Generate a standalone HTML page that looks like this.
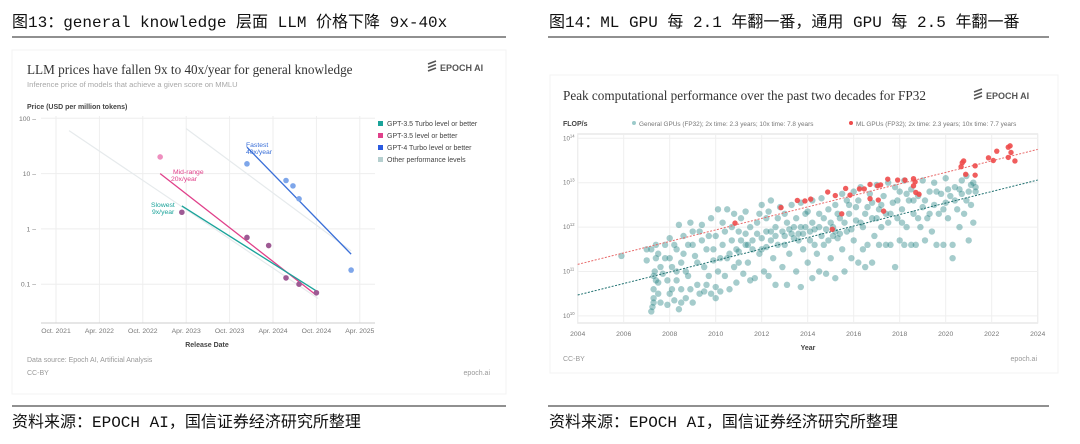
<!DOCTYPE html>
<html><head><meta charset="utf-8"><style>
html,body{margin:0;padding:0;background:#fff;}
svg{display:block;font-family:"Liberation Sans","Noto Sans CJK SC",sans-serif;}
.hdr{font-family:"Liberation Mono","Noto Sans CJK SC",monospace;font-size:16px;fill:#111;}
.serif{font-family:"Liberation Serif",serif;}
</style></head><body>
<svg id="root" width="1080" height="444" viewBox="0 0 1080 444">
<text class="hdr" x="12" y="27">图13：general knowledge 层面 LLM 价格下降 9x-40x</text>
<line x1="12" y1="37" x2="506" y2="37" stroke="#222" stroke-width="1"/>
<text class="hdr" x="549" y="27">图14：ML GPU 每 2.1 年翻一番，通用 GPU 每 2.5 年翻一番</text>
<line x1="548" y1="37" x2="1049" y2="37" stroke="#222" stroke-width="1"/>
<line x1="12" y1="406" x2="506" y2="406" stroke="#222" stroke-width="1"/>
<text class="hdr" x="12" y="427">资料来源：EPOCH AI，国信证券经济研究所整理</text>
<line x1="548" y1="406" x2="1049" y2="406" stroke="#222" stroke-width="1"/>
<text class="hdr" x="549" y="427">资料来源：EPOCH AI，国信证券经济研究所整理</text>

<g id="left">
<rect x="12" y="50" width="494" height="344" fill="#fff" stroke="#f3f3f3"/>
<text class="serif" x="27" y="74" font-size="13.2" fill="#333">LLM prices have fallen 9x to 40x/year for general knowledge</text>
<text x="27" y="87" font-size="7.6" fill="#a8a8a8">Inference price of models that achieve a given score on MMLU</text>
<g><path d="M428 64 l8 -3 M428 67.5 l8 -3 M428 71 l8 -3" stroke="#555" stroke-width="1.6"/><text x="440" y="71" font-size="9" font-weight="bold" fill="#555">EPOCH AI</text></g>
<text x="27" y="109" font-size="7" font-weight="bold" fill="#444">Price (USD per million tokens)</text>
<g id="lgrid"></g>
<g id="lmarks"></g>
<g>
<rect x="378" y="121" width="5" height="5" fill="#1aa39a"/><text x="387" y="126" font-size="7" fill="#444">GPT-3.5 Turbo level or better</text>
<rect x="378" y="133" width="5" height="5" fill="#e0408a"/><text x="387" y="138" font-size="7" fill="#444">GPT-3.5 level or better</text>
<rect x="378" y="145" width="5" height="5" fill="#2a5ae0"/><text x="387" y="150" font-size="7" fill="#444">GPT-4 Turbo level or better</text>
<rect x="378" y="157" width="5" height="5" fill="#b5cfcf"/><text x="387" y="162" font-size="7" fill="#444">Other performance levels</text>
</g>
<text x="207" y="347" font-size="7" font-weight="bold" fill="#444" text-anchor="middle">Release Date</text>
<text x="27" y="362" font-size="7" fill="#999">Data source: Epoch AI, Artificial Analysis</text>
<text x="27" y="375" font-size="7" fill="#999">CC-BY</text>
<text x="490" y="375" font-size="7" fill="#999" text-anchor="end">epoch.ai</text>
</g>

<g id="right">
<rect x="550" y="75" width="508" height="298" fill="#fff" stroke="#f3f3f3"/>
<text class="serif" x="563" y="100" font-size="13.2" fill="#333">Peak computational performance over the past two decades for FP32</text>
<g><path d="M974 92 l8 -3 M974 95.5 l8 -3 M974 99 l8 -3" stroke="#555" stroke-width="1.6"/><text x="986" y="99" font-size="9" font-weight="bold" fill="#555">EPOCH AI</text></g>
<text x="563" y="126" font-size="7" font-weight="bold" fill="#444">FLOP/s</text>
<g>
<circle cx="634" cy="123" r="2" fill="#9ccaca"/><text x="639" y="126" font-size="6.4" fill="#777">General GPUs (FP32); 2x time: 2.3 years; 10x time: 7.8 years</text>
<circle cx="851" cy="123" r="2" fill="#ee4b4b"/><text x="856" y="126" font-size="6.4" fill="#777">ML GPUs (FP32); 2x time: 2.3 years; 10x time: 7.7 years</text>
</g>
<g id="rgrid"></g>
<g id="rmarks"></g>
<text x="808" y="350" font-size="7" font-weight="bold" fill="#444" text-anchor="middle">Year</text>
<text x="563" y="361" font-size="7" fill="#999">CC-BY</text>
<text x="1037" y="361" font-size="7" fill="#999" text-anchor="end">epoch.ai</text>
</g>
</svg>
<script>
const lXTicks = [2021.75,2022.25,2022.75,2023.25,2023.75,2024.25,2024.75,2025.25];
const lXLabels = ["Oct. 2021","Apr. 2022","Oct. 2022","Apr. 2023","Oct. 2023","Apr. 2024","Oct. 2024","Apr. 2025"];
const lYTicks = [100,10,1,0.1];
const lYLabels = ["100","10","1","0.1"];
const pinkDates = [2022.95];
const pinkPrices = [20];
const purpleDates = [2023.2,2023.95,2024.2,2024.4,2024.55,2024.75];
const purplePrices = [2,0.7,0.5,0.13,0.1,0.07];
const blueDates = [2023.95,2024.4,2024.48,2024.55,2025.15];
const bluePrices = [15,7.5,6,3.5,0.18];
const trendNames = ["slowest-9x","mid-range-20x","fastest-40x","other-a","other-b"];
const trendDates = [[2023.2,2024.77],[2022.95,2024.75],[2023.95,2025.15],[2021.9,2024.77],[2023.25,2025.15]];
const trendPrices = [[2.6,0.072],[10,0.063],[30,0.35],[60,0.055],[65,0.4]];

const NS="http://www.w3.org/2000/svg";
function mk(tag,attrs,parent){const e=document.createElementNS(NS,tag);for(const k in attrs)e.setAttribute(k,attrs[k]);parent.appendChild(e);return e;}
const lx = d => 56 + (d-2021.75)*86.8;
const ly = p => 118.3 + (2-Math.log10(p))*55.3;
const lg=document.getElementById('lgrid'), lm=document.getElementById('lmarks');
for(let i=0;i<lXTicks.length;i++){
  const l=mk('line',{x1:lx(lXTicks[i]),x2:lx(lXTicks[i]),y1:116,y2:323,stroke:'#eeeeee','stroke-width':1},lg);
  
  
  const t=mk('text',{x:lx(lXTicks[i]),y:333,'font-size':6.8,fill:'#777','text-anchor':'middle'},lg);
  t.textContent=lXLabels[i];
  
  
}
for(let i=0;i<lYTicks.length;i++){
  const l=mk('line',{x1:41,x2:375,y1:ly(lYTicks[i]),y2:ly(lYTicks[i]),stroke:'#eeeeee','stroke-width':1},lg);
  
  
  const t=mk('text',{x:36,y:ly(lYTicks[i])+2.5,'font-size':6.8,fill:'#777','text-anchor':'end'},lg);
  t.textContent=lYLabels[i]+' –';
  
  
}
const axl=mk('line',{x1:41,x2:375,y1:323,y2:323,stroke:'#ccc','stroke-width':1},lg);


const trendColors=['#1aa39a','#e0408a','#3a6fd8','#e6eaec','#e6eaec'];
for(let i=trendNames.length-1;i>=0;i--){
  const l=mk('line',{x1:lx(trendDates[i][0]),y1:ly(trendPrices[i][0]),x2:lx(trendDates[i][1]),y2:ly(trendPrices[i][1]),stroke:trendColors[i],'stroke-width':i<3?1.3:1.2},lm);
  
  
}
function ldots(ds,ps,col,name){for(let i=0;i<ds.length;i++){const c=mk('circle',{cx:lx(ds[i]),cy:ly(ps[i]),r:2.8,fill:col},lm);}}
ldots(pinkDates,pinkPrices,'#ee8fbf','pink-model-point');
ldots(purpleDates,purplePrices,'#9e5a94','purple-model-point');
ldots(blueDates,bluePrices,'#7ea6ea','blue-model-point');
const labs=[[246,147,'#3a6fd8','Fastest','fastest-label'],[246,154,'#3a6fd8','40x/year','fastest-label-rate'],[173,174,'#e0408a','Mid-range','midrange-label'],[171,181,'#e0408a','20x/year','midrange-label-rate'],[151,207,'#1aa39a','Slowest','slowest-label'],[152,214,'#1aa39a','9x/year','slowest-label-rate']];
labs.forEach(a=>{const t=mk('text',{x:a[0],y:a[1],'font-size':6.8,fill:a[2]},lm);t.textContent=a[3];});

const rXTicks = [2004,2006,2008,2010,2012,2014,2016,2018,2020,2022,2024];
const rYExps = [14,13,12,11,10];
const mlYears = [2010.84,2012.84,2013.55,2013.88,2014.13,2014.87,2015.2,2015.07,2015.48,2015.65,2015.84,2016.25,2016.46,2016.71,2016.71,2017.04,2017.07,2017.17,2017.3,2017.48,2017.91,2018.23,2018.6,2018.67,2018.6,2018.7,2018.84,2020.67,2020.72,2020.78,2020.87,2021.28,2021.28,2021.86,2022.07,2022.22,2022.72,2022.72,2022.8,2022.84,2023.01];
const mlLogs = [12.09,12.44,12.6,12.59,12.63,12.79,12.71,11.95,12.3,12.87,12.72,12.86,12.86,12.96,12.64,12.93,12.61,12.95,12.36,13.08,13.06,13.06,13.09,13.02,12.93,12.78,12.74,13.36,13.45,13.49,13.19,13.38,13.17,13.56,13.5,13.71,13.57,13.8,13.83,13.68,13.49];
const genPts = [[2005.9,11.35],[2007.0,11.25],[2007.0,11.5],[2007.2,10.1],[2007.25,10.2],[2007.3,10.4],[2007.3,10.6],[2007.3,10.9],[2007.35,11.0],[2007.4,11.3],[2007.4,11.6],[2007.2,11.5],[2007.5,10.5],[2007.5,10.75],[2007.6,11.1],[2007.6,10.3],
[2007.8,11.6],[2007.9,10.8],[2007.9,10.25],[2008.0,11.3],[2008.0,11.75],[2008.1,10.6],[2008.2,10.35],[2008.3,11.0],[2008.3,11.5],[2008.4,12.05],[2008.4,10.15],[2008.5,10.6],[2008.5,11.2],
[2008.6,11.8],[2008.7,10.4],[2008.7,11.0],[2008.8,10.9],[2008.9,12.1],[2009.0,11.6],[2009.0,10.3],[2009.1,11.35],[2009.2,10.7],[2009.3,11.9],[2009.4,12.05],[2009.5,10.55],[2009.5,11.1],
[2009.6,11.5],[2009.7,10.9],[2009.8,12.2],[2009.8,10.5],[2009.9,11.25],[2010.0,11.8],[2010.0,10.65],[2010.1,12.4],[2010.1,11.0],[2010.2,10.55],[2010.3,11.6],[2010.3,12.1],[2010.4,10.9],[2010.5,11.3],[2010.5,12.4],
[2010.6,10.6],[2010.7,11.7],[2010.8,12.3],[2010.8,11.1],[2010.9,10.75],[2011.0,11.9],[2011.0,11.45],[2011.1,12.2],[2011.2,10.95],[2011.3,11.6],[2011.3,12.35],[2011.4,11.2],[2011.5,10.8],[2011.5,12.0],
[2011.6,11.7],[2011.7,10.85],[2011.8,12.1],[2011.9,11.4],[2012.0,12.5],[2012.0,11.75],[2012.1,11.0],[2012.2,12.2],[2012.2,11.55],[2012.3,10.9],[2012.4,11.9],[2012.4,12.6],[2012.5,11.3],
[2012.6,10.7],[2012.6,12.0],[2012.7,11.6],[2012.8,12.45],[2012.9,11.1],[2013.0,11.8],[2013.0,12.3],[2013.1,10.7],[2013.2,11.95],[2013.2,11.4],[2013.3,12.5],[2013.4,11.75],[2013.5,11.0],[2013.5,12.2],
[2013.6,11.85],[2013.7,10.65],[2013.7,12.55],[2013.8,11.5],[2013.9,12.0],[2014.0,11.2],[2014.0,12.35],[2014.1,11.7],[2014.2,10.85],[2014.2,12.6],[2014.3,11.95],[2014.4,11.4],[2014.5,12.3],[2014.5,11.0],
[2014.6,12.65],[2014.7,11.6],[2014.8,11.95],[2014.8,10.95],[2014.9,12.4],[2015.0,11.3],[2015.0,12.1],[2015.1,11.8],[2015.2,10.85],[2015.2,12.5],[2015.3,11.75],[2015.4,12.2],[2015.5,11.5],[2015.5,12.75],
[2015.6,11.0],[2015.7,12.6],[2015.7,11.9],[2015.8,12.3],[2015.9,11.3],[2016.0,12.8],[2016.0,11.7],[2016.1,12.45],[2016.2,11.2],[2016.3,12.1],[2016.3,12.9],[2016.4,11.5],[2016.5,12.3],[2016.5,11.1],
[2016.6,11.6],[2016.7,12.75],[2016.8,11.2],[2016.8,12.2],[2016.9,11.8],[2017.0,12.95],[2017.1,12.4],[2017.1,11.6],[2017.2,12.0],[2017.3,12.7],[2017.4,11.6],[2017.4,12.3],[2017.5,13.0],[2017.5,12.1],
[2017.6,11.6],[2017.7,12.55],[2017.8,12.9],[2017.8,11.1],[2017.9,12.2],[2018.0,11.7],[2018.0,12.8],[2018.1,12.4],[2018.2,11.6],[2018.2,13.05],[2018.3,12.0],[2018.4,12.6],[2018.5,11.6],[2018.5,12.85],
[2018.6,12.3],[2018.7,11.6],[2018.8,12.7],[2018.9,12.0],[2019.0,13.05],[2019.0,12.45],[2019.1,11.7],[2019.2,12.2],[2019.3,12.8],[2019.4,11.9],[2019.5,12.5],[2019.5,13.0],
[2019.6,11.6],[2019.7,12.3],[2019.8,12.75],[2019.9,11.6],[2020.0,12.55],[2020.0,13.1],[2020.1,12.2],[2020.2,12.7],[2020.3,11.6],[2020.3,11.3],[2020.4,12.9],[2020.5,12.4],
[2020.6,12.0],[2020.7,12.75],[2020.7,13.05],[2020.8,12.3],[2020.9,13.15],[2021.0,12.8],[2021.0,11.7],[2021.1,12.5],[2021.2,13.0],[2021.2,12.1],[2021.3,12.8],[2021.3,12.9]];
const genPts2 = [[2007.3,10.3],[2007.4,10.8],[2007.5,11.4],[2007.7,10.95],[2007.8,11.3],[2008.0,10.5],[2008.1,11.1],[2008.2,11.6],[2008.3,10.8],[2008.5,10.3],[2008.6,11.4],[2008.8,11.6],[2008.9,10.6],[2009.0,11.9],[2009.2,11.2],[2009.3,10.5],[2009.4,11.7],[2009.6,10.7],[2009.7,11.8],[2009.9,11.5],[2010.0,10.4],[2010.2,11.3],[2010.4,11.9],[2010.6,11.4],[2010.7,12.0],[2010.9,11.5],[2011.0,11.2],[2011.1,11.7],[2011.3,11.85],[2011.4,11.6],[2011.6,11.5],[2011.8,11.85],[2011.9,12.3],[2012.0,11.5],[2012.2,11.9],[2012.3,12.35],[2012.4,11.7],[2012.6,11.8],[2012.7,12.2],[2012.9,11.9],[2013.0,11.6],[2013.1,12.1],[2013.3,11.85],[2013.4,12.0],[2013.6,11.7],[2013.7,12.0],[2013.8,11.85],[2013.9,12.3],[2014.1,11.9],[2014.2,12.1],[2014.3,11.6],[2014.5,12.0],[2014.6,11.8],[2014.7,12.2],[2014.9,11.7],[2015.1,12.0],[2015.2,11.9],[2015.3,12.3],[2015.4,11.85],[2015.6,12.1],[2015.8,12.5],[2015.9,11.95],[2016.1,12.15],[2016.2,12.6],[2016.4,12.0],[2016.6,12.45],[2016.8,12.55],[2017.0,12.2],[2017.2,12.5],[2017.6,12.3],[2017.9,12.6],[2018.1,12.1],[2018.3,12.75],[2018.6,12.6],[2018.8,12.2],[2019.1,12.6],[2019.3,12.3],[2019.6,12.8],[2019.9,12.4],[2020.1,12.85],[2020.4,12.6],[2020.6,12.85],[2020.9,12.6],[2021.1,12.95]];
const mlTrendYears = [2004,2024];
const mlTrendLogs = [11.16,13.75];
const genTrendYears = [2004,2024];
const genTrendLogs = [10.47,13.06];

const rx = y => 577.7 + (y-2004)*23;
const ry = e => 138.3 + (14-e)*44.4;
const rg=document.getElementById('rgrid'), rm=document.getElementById('rmarks');
const frame=mk('rect',{x:577.7,y:134,width:460,height:189,fill:'none',stroke:'#dddddd'},rg);


for(const t of rXTicks){
  const l=mk('line',{x1:rx(t),x2:rx(t),y1:134,y2:323,stroke:'#efefef'},rg);
  
  
  const tx=mk('text',{x:rx(t),y:336,'font-size':6.8,fill:'#777','text-anchor':'middle'},rg);
  tx.textContent=String(t);
  
  
}
for(const e of rYExps){
  const l=mk('line',{x1:577.7,x2:1037.7,y1:ry(e),y2:ry(e),stroke:'#efefef'},rg);
  
  
  const tx=mk('text',{x:563,y:ry(e)+2,'font-size':6.2,fill:'#777'},rg);
  tx.textContent='10';
  const sp=mk('tspan',{dy:-3,'font-size':4.2},tx);sp.textContent=String(e);
  
  
}
for(const p of genPts.concat(genPts2)){
  const c=mk('circle',{cx:rx(p[0]),cy:ry(p[1]),r:3.2,fill:'#1f8080','fill-opacity':0.4},rm);
  
  
}
const gt=mk('line',{x1:rx(genTrendYears[0]),y1:ry(genTrendLogs[0]),x2:rx(genTrendYears[1]),y2:ry(genTrendLogs[1]),stroke:'#1f7070','stroke-width':1,'stroke-dasharray':'2,1.5'},rm);


const mt=mk('line',{x1:rx(mlTrendYears[0]),y1:ry(mlTrendLogs[0]),x2:rx(mlTrendYears[1]),y2:ry(mlTrendLogs[1]),stroke:'#e86b6b','stroke-width':1,'stroke-dasharray':'2,1.5'},rm);


for(let i=0;i<mlYears.length;i++){
  const c=mk('circle',{cx:rx(mlYears[i]),cy:ry(mlLogs[i]),r:2.7,fill:'#ee4b4b','fill-opacity':0.9},rm);
  
  
}
</script>
</body></html>
